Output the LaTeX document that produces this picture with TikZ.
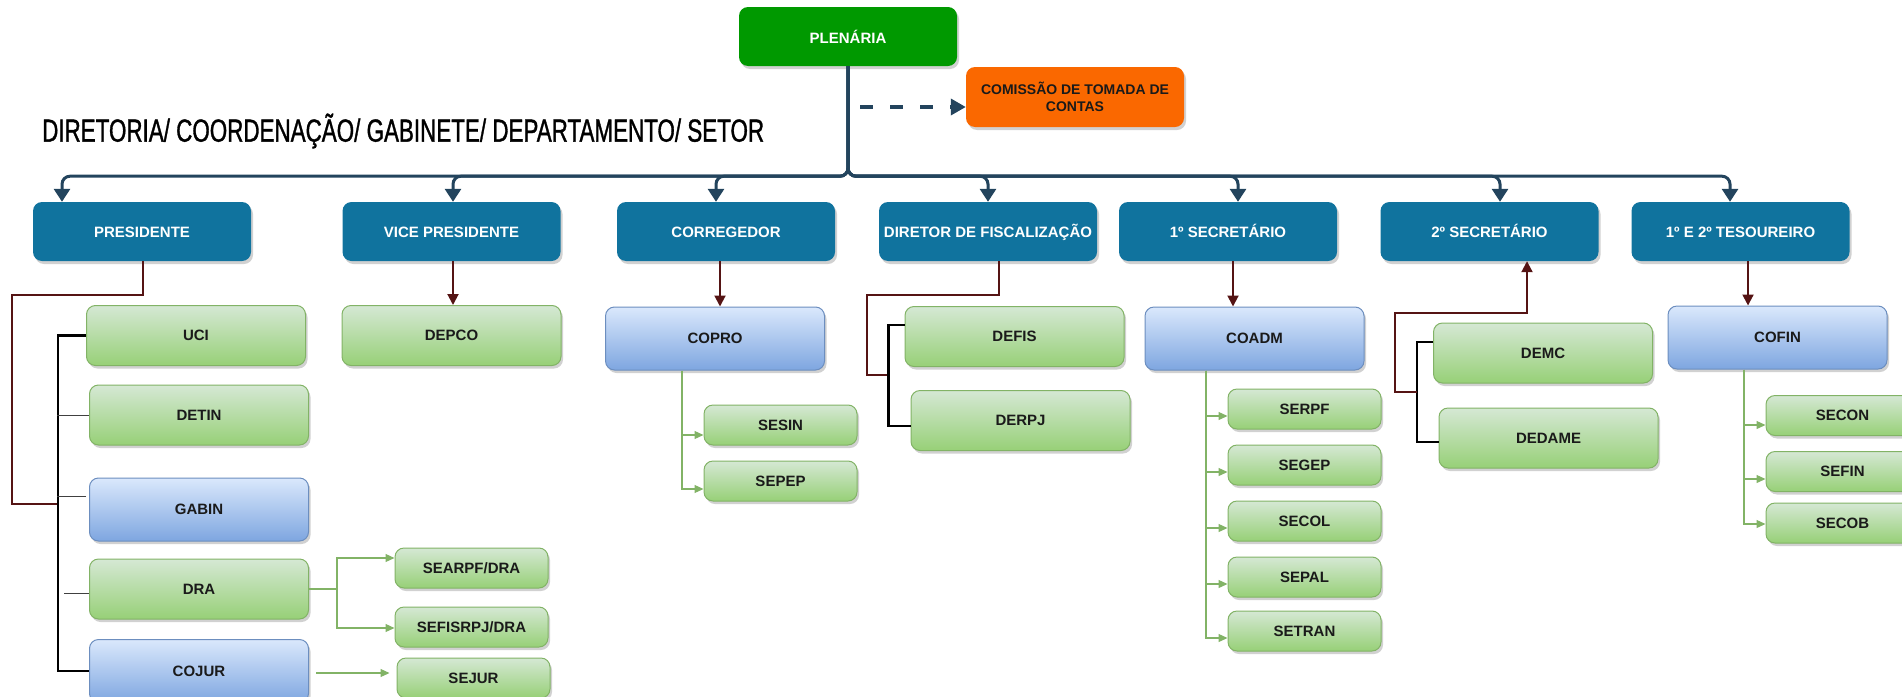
\documentclass[tikz,border=0pt]{standalone}
\usepackage{fontspec}
\setmainfont{Liberation Sans}
\newfontfamily\titlefont[FakeStretch=0.70,FakeBold=1]{Liberation Sans}
\usetikzlibrary{arrows.meta,shadows,calc}
\definecolor{navy}{HTML}{23445D}
\definecolor{darkblue}{HTML}{10739E}
\definecolor{plengreen}{RGB}{0,153,0}
\definecolor{orangeb}{HTML}{FA6800}
\definecolor{gtop}{HTML}{D5E8D4}
\definecolor{gbot}{HTML}{97D077}
\definecolor{gline}{HTML}{82B366}
\definecolor{btop}{HTML}{DAE8FC}
\definecolor{bbot}{HTML}{7EA6E0}
\definecolor{bline}{HTML}{6C8EBF}
\definecolor{maroonl}{RGB}{85,20,20}
\definecolor{txt}{HTML}{1A1A1A}
\begin{document}
\begin{tikzpicture}[x=1pt,y=-1pt,
  base/.style={rounded corners=9pt, inner sep=0pt, align=center,
     font=\fontsize{15}{18}\selectfont\bfseries,
     drop shadow={shadow xshift=2pt, shadow yshift=-3pt, opacity=0.3, fill=black!60}},
  dbox/.style={base, fill=darkblue, text=white, minimum width=218pt, minimum height=59pt,
     text height=11pt, text depth=0pt},
  gbox/.style={base, top color=gtop, bottom color=gbot, draw=gline, line width=1pt, text=txt, minimum width=219pt, minimum height=60pt},
  lbbox/.style={base, top color=btop, bottom color=bbot, draw=bline, line width=1pt, text=txt, minimum width=219pt, minimum height=63pt},
  sbox/.style={gbox, minimum width=153pt, minimum height=40pt},
  bus/.style={draw=navy, line width=3pt, rounded corners=8pt, -{Triangle[width=16pt,length=13pt]}},
  redl/.style={draw=maroonl, line width=2pt},
  reda/.style={redl, -{Triangle[width=11pt,length=11pt]}},
  blk/.style={draw=black, line width=2.5pt},
  thinl/.style={draw=black!75, line width=1pt},
  grl/.style={draw=gline, line width=1.2pt},
  gra/.style={grl, -{Triangle[width=8pt,length=9pt]}},
]
\useasboundingbox (0,0) rectangle (1902,696);
\clip (0,0) rectangle (1902,696);

% top
\node[base, fill=plengreen, text=white, minimum width=218pt, minimum height=59pt] (plen) at (848,36.5) {PLENÁRIA};
\node[base, fill=orangeb, text=txt, minimum width=218pt, minimum height=60pt,
      font=\fontsize{14}{17}\selectfont\bfseries] (ctc) at (1075,97) {COMISSÃO DE TOMADA DE\\CONTAS};
\node[font=\titlefont\fontsize{32}{36}\selectfont, anchor=west, inner sep=0pt] (title) at (42,131)
  {DIRETORIA/ COORDENAÇÃO/ GABINETE/ DEPARTAMENTO/ SETOR};

% dark row
\node[dbox] (pres) at (142,231.5) {PRESIDENTE};
\node[dbox] (vice) at (451.5,231.5) {VICE PRESIDENTE};
\node[dbox] (corr) at (726,231.5) {CORREGEDOR};
\node[dbox] (dirf) at (988,231.5) {DIRETOR DE FISCALIZAÇÃO};
\node[dbox] (sec1) at (1228,231.5) {1º SECRETÁRIO};
\node[dbox] (sec2) at (1489.5,231.5) {2º SECRETÁRIO};
\node[dbox] (tes) at (1740.5,231.5) {1º E 2º TESOUREIRO};

% president branch
\node[gbox] (uci) at (196,335.5) {UCI};
\node[gbox] (detin) at (199,415) {DETIN};
\node[lbbox] (gabin) at (199,509.5) {GABIN};
\node[gbox] (dra) at (199,589) {DRA};
\node[lbbox] (cojur) at (199,671) {COJUR};
\node[sbox] (searpf) at (471.5,568) {SEARPF/DRA};
\node[sbox] (sefisrpj) at (471.5,627) {SEFISRPJ/DRA};
\node[sbox] (sejur) at (473.5,678) {SEJUR};

% vice
\node[gbox] (depco) at (451.5,335.5) {DEPCO};
% corregedor
\node[lbbox] (copro) at (715,338.5) {COPRO};
\node[sbox] (sesin) at (780.5,425) {SESIN};
\node[sbox] (sepep) at (780.5,481) {SEPEP};
% diretor
\node[gbox] (defis) at (1014.5,336.5) {DEFIS};
\node[gbox] (derpj) at (1020.5,420.5) {DERPJ};
% 1 sec
\node[lbbox] (coadm) at (1254.5,338.5) {COADM};
\node[sbox] (serpf) at (1304.5,409) {SERPF};
\node[sbox] (segep) at (1304.5,465) {SEGEP};
\node[sbox] (secol) at (1304.5,521) {SECOL};
\node[sbox] (sepal) at (1304.5,577) {SEPAL};
\node[sbox] (setran) at (1304.5,631) {SETRAN};
% 2 sec
\node[gbox] (demc) at (1543,353) {DEMC};
\node[gbox] (dedame) at (1548.5,438) {DEDAME};
% tesoureiro
\node[lbbox] (cofin) at (1777.5,337.5) {COFIN};
\node[sbox] (secon) at (1842.5,415.5) {SECON};
\node[sbox] (sefin) at (1842.5,471.5) {SEFIN};
\node[sbox] (secob) at (1842.5,523) {SECOB};

% bus from plenaria
\draw[bus] (plen.south) -- ++(0,110) -| ([xshift=-80pt]pres.north);
\draw[bus] (plen.south) -- ++(0,110) -| ([xshift=1.5pt]vice.north);
\draw[bus] (plen.south) -- ++(0,110) -| ([xshift=-10pt]corr.north);
\draw[bus] (plen.south) -- ++(0,110) -| (dirf.north);
\draw[bus] (plen.south) -- ++(0,110) -| ([xshift=10pt]sec1.north);
\draw[bus] (plen.south) -- ++(0,110) -| ([xshift=10.5pt]sec2.north);
\draw[bus] (plen.south) -- ++(0,110) -| ([xshift=-10.5pt]tes.north);
\coordinate (dstart) at (860,107);
\draw[draw=navy, line width=3.5pt, dash pattern=on 13pt off 17pt, -{Triangle[width=16pt,length=15pt]}]
  (dstart) -- (dstart -| ctc.west);

% president connectors
\coordinate (p1) at (12,295);
\coordinate (p2) at (12,504);
\coordinate (pbj) at (59,504);
\draw[redl] ([xshift=1pt]pres.south) |- (p1) -- (p2) -- (pbj);
\draw[blk] (uci.west) -- ++(-28,0) |- (cojur.west);
\draw[thinl] (detin.west) -- ++(-32,0);
\draw[thinl] ([yshift=13.5pt,xshift=-3pt]gabin.west) -- ++(-29,0);
\draw[thinl] ([yshift=-4pt]dra.west) -- ++(-25,0);
\coordinate (dj) at (337,589);
\draw[grl, line width=2.5pt] (dra.east) -- (dj);
\draw[gra] (dj) |- ([yshift=10pt]searpf.west);
\draw[gra] (dj) |- ([yshift=-1pt]sefisrpj.west);
\draw[gra] ([xshift=7pt,yshift=-2pt]cojur.east) -- ([xshift=-7pt,yshift=5pt]sejur.west);

% vice, corregedor
\draw[reda] ([xshift=1.5pt]vice.south) -- ([xshift=1.5pt]vice.south |- depco.north);
\draw[reda] ([xshift=-6pt]corr.south) -- ([xshift=-6pt]corr.south |- copro.north);
\draw[gra] ([xshift=-33pt]copro.south) |- ([yshift=-10pt]sesin.west);
\draw[gra] ([xshift=-33pt]copro.south) |- ([yshift=-8pt]sepep.west);

% diretor
\coordinate (dr1) at (867,295);
\coordinate (dr2) at (867,375);
\coordinate (dbj) at (889,375);
\draw[redl] ([xshift=11pt]dirf.south) |- (dr1) -- (dr2) -- (dbj);
\draw[blk] ([yshift=11.5pt]defis.west) -- ++(-16,0) |- ([yshift=-5.5pt]derpj.west);

% 1 sec
\draw[reda] ([xshift=5pt]sec1.south) -- ([xshift=5pt]sec1.south |- coadm.north);
\foreach \n in {serpf,segep,secol,sepal,setran}
  \draw[gra] ([xshift=-48.5pt]coadm.south) |- ([yshift=-7pt]\n.west);

% 2 sec
\draw[blk] ([yshift=11pt]demc.west) -- ++(-16,0) |- ([yshift=-4pt]dedame.west);
\coordinate (s2a) at (1417,392);
\coordinate (s2b) at (1395,392);
\coordinate (s2c) at (1395,313);
\draw[reda] (s2a) -- (s2b) -- (s2c) -| ([xshift=37.5pt]sec2.south);

% tesoureiro
\draw[reda] ([xshift=7.5pt]tes.south) -- ([xshift=7.5pt]tes.south |- cofin.north);
\draw[gra] ([xshift=-33.5pt]cofin.south) |- ([yshift=-9.5pt]secon.west);
\draw[gra] ([xshift=-33.5pt]cofin.south) |- ([yshift=-7.5pt]sefin.west);
\draw[gra] ([xshift=-33.5pt]cofin.south) |- ([yshift=-1pt]secob.west);
\end{tikzpicture}
\end{document}
